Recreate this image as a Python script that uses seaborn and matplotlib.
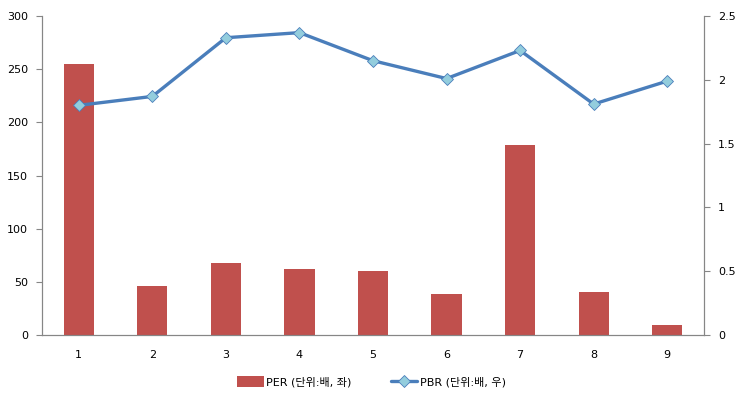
import matplotlib
matplotlib.use("Agg")
import matplotlib.pyplot as plt
import seaborn as sns
import pandas as pd
from matplotlib.lines import Line2D
from matplotlib.patches import Patch

categories = ["1", "2", "3", "4", "5", "6", "7", "8", "9"]
per_values = [255, 46, 68, 62, 60, 39, 179, 40, 9.5]
pbr_values = [1.80, 1.87, 2.33, 2.37, 2.15, 2.01, 2.23, 1.81, 1.99]

sns.set_theme(style="white")
plt.rcParams["font.family"] = ["DejaVu Sans", "Noto Sans CJK KR"]

df = pd.DataFrame({"cat": categories, "PER": per_values, "PBR": pbr_values})

fig = plt.figure(figsize=(7.43, 4.03), dpi=100)
ax = fig.add_axes([0.0565, 0.1687, 0.891, 0.7915])

axis_color = "#868686"
bar_color = "#C0504D"
line_color = "#4A7EBB"

sns.barplot(data=df, x="cat", y="PER", color=bar_color, width=0.41,
            saturation=1, linewidth=0, ax=ax)
ax.set_xlim(-0.5, 8.5)
ax.set_ylim(0, 300)
ax.set_yticks(range(0, 301, 50))
ax.set_xlabel("")
ax.set_ylabel("")

ax2 = ax.twinx()
x_pos = list(range(len(categories)))
sns.lineplot(x=x_pos, y=pbr_values, color=line_color, linewidth=2.4,
             marker="D", markersize=6, markerfacecolor="#93CDDD",
             markeredgecolor="#4A7EBB", markeredgewidth=0.6, ax=ax2)
ax2.set_ylim(0, 2.5)
ax2.set_yticks([0, 0.5, 1, 1.5, 2, 2.5])
ax2.set_yticklabels(["0", "0.5", "1", "1.5", "2", "2.5"])
ax2.set_xlim(-0.5, 8.5)

# category boundary ticks on the x axis, excel style
ax.set_xticks([i - 0.5 for i in range(len(categories) + 1)], minor=True)
ax.tick_params(axis="x", which="major", length=0, pad=11)
ax.tick_params(axis="x", which="minor", length=5, color=axis_color,
               direction="out", width=0.8)

for a in (ax, ax2):
    a.spines["top"].set_visible(False)
    for side in ("left", "right", "bottom"):
        a.spines[side].set_color(axis_color)
        a.spines[side].set_linewidth(0.8)
    a.tick_params(axis="y", length=4, color=axis_color, width=0.8,
                  labelsize=8, labelcolor="black", direction="out", pad=6)
    a.tick_params(axis="x", labelsize=8, labelcolor="black")
    a.grid(False)

handles = [
    Patch(facecolor=bar_color, edgecolor="none"),
    Line2D([0], [0], color=line_color, linewidth=2.4, marker="D",
           markersize=6, markerfacecolor="#93CDDD",
           markeredgecolor="#4A7EBB", markeredgewidth=0.6),
]
labels = ["PER (단위:배, 좌)", "PBR (단위:배, 우)"]
fig.legend(handles, labels, loc="center", bbox_to_anchor=(0.5, 0.052),
           ncol=2, frameon=False, fontsize=8, handlelength=2.4,
           handleheight=1.1, handletextpad=0.2, columnspacing=3.5,
           labelcolor="black")

fig.savefig("out.png", dpi=100)
